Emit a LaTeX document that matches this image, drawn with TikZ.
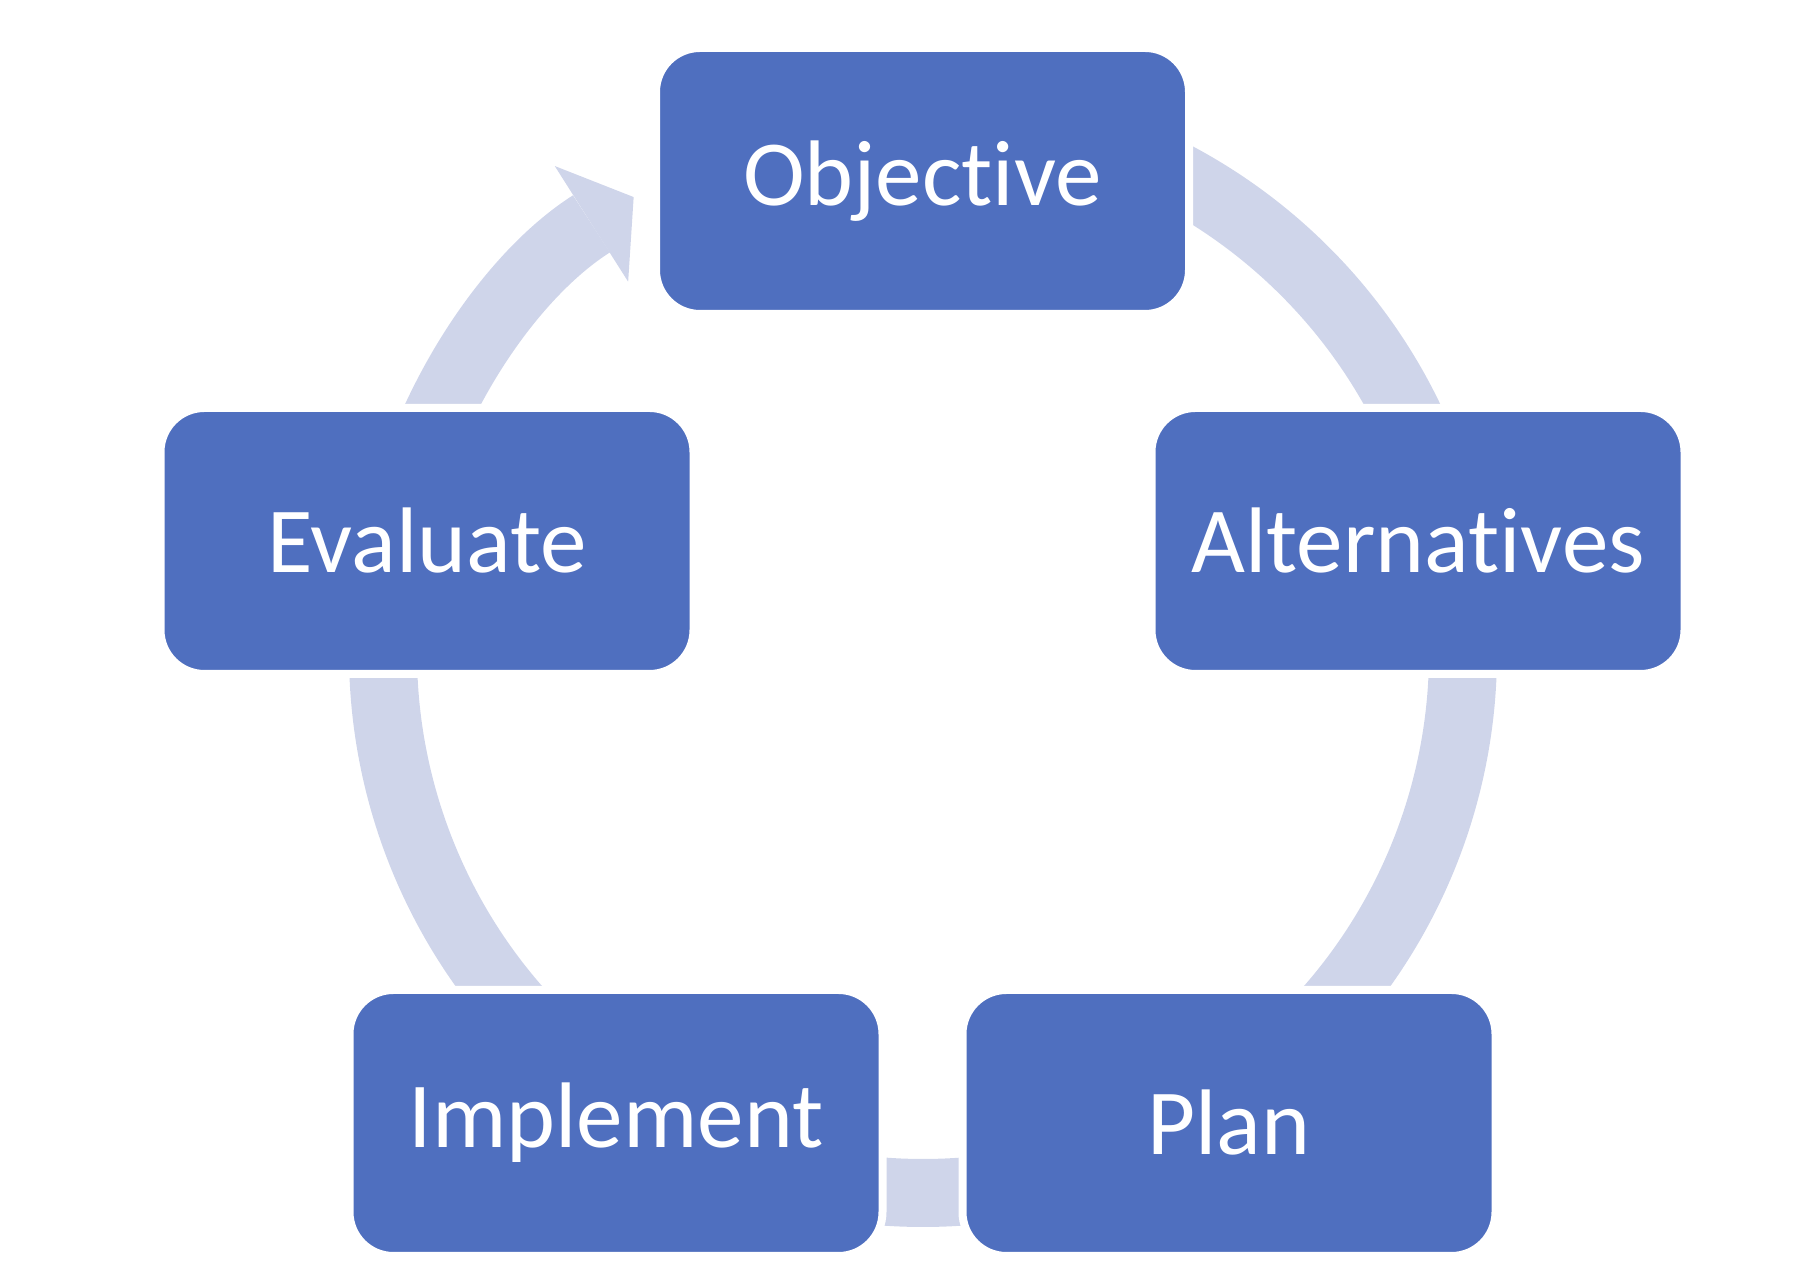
\documentclass[tikz,border=0pt]{standalone}
\usepackage{fontspec}
\setmainfont{Carlito}[Ligatures={NoCommon,NoContextual}]
\usetikzlibrary{arrows.meta,calc,positioning}
\definecolor{stepblue}{RGB}{79,111,191}
\definecolor{ringcolor}{RGB}{207,213,234}
\tikzset{
  stepbox/.style={draw=white,line width=0.08cm,rounded corners=0.44cm,fill=stepblue,
    minimum width=5.33cm,minimum height=2.66cm,text=white,
    font=\fontsize{26.5}{32}\selectfont},
  ringline/.style={draw=ringcolor,line width=0.68cm}
}

\begin{document}
\begin{tikzpicture}
  \useasboundingbox (0,0) rectangle (18,12.79);
  \coordinate (ctr) at (9.23,6.26);

  % --- ring segments, their ends run under the boxes ---
  \foreach \a/\b in {90/12.7,12.7/-57,-57/-123,-123/-192.7}
    \draw[ringline] ($(ctr)+(\a:5.4)$) arc[start angle=\a,end angle=\b,radius=5.4cm];

  % --- closing arrow back into the objective ---
  \draw[ringline,-{Triangle[length=0.5cm,width=1.37cm,line width=0pt]}]
    ($(ctr)+(167.3:5.4)$) arc[start angle=167.3,end angle=122.4,radius=5.4cm];

  % --- steps of the cycle ---
  \node[stepbox] (obj) at (9.225,10.98) {Objective};
  \node[stepbox] (alt) at (14.18,7.38) {Alternatives};
  \node[stepbox] (plan) at (12.29,1.56) {Plan};
  \node[stepbox,left=0.72cm of plan] (impl) {Implement};
  \node[stepbox] (eval) at (4.27,7.38) {Evaluate};

\end{tikzpicture}
\end{document}
